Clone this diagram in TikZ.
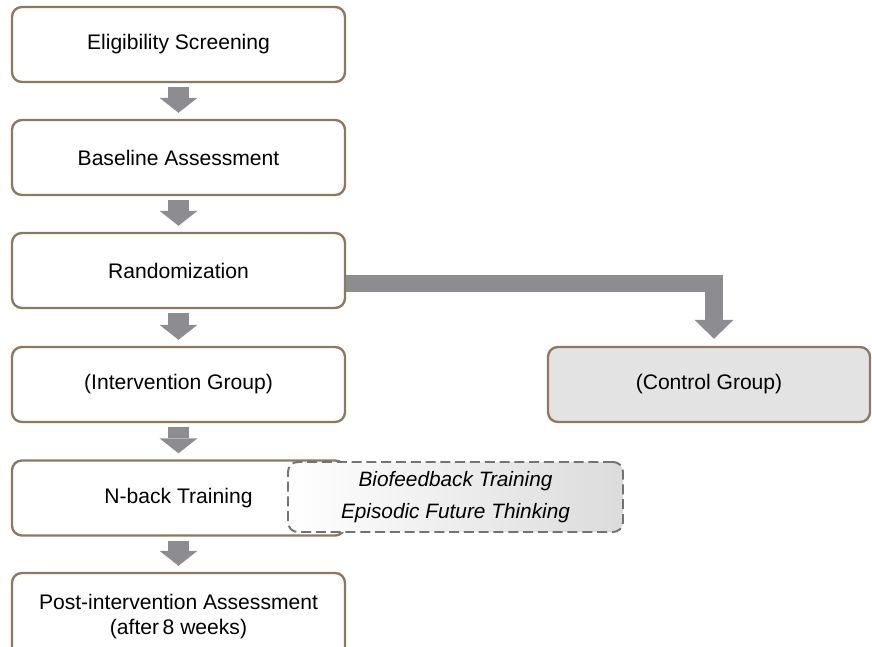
\documentclass[tikz,border=0pt]{standalone}
\usepackage{fontspec}
\setmainfont{Liberation Sans}
\usetikzlibrary{positioning, arrows.meta, calc}
\definecolor{boxbrown}{HTML}{8C7A60}
\definecolor{flowgray}{HTML}{8D8C91}
\definecolor{ctrlgray}{HTML}{E3E3E3}
\definecolor{dashgray}{HTML}{737373}

\tikzset{
  stepbox/.style={draw=boxbrown, line width=1.7pt, rounded corners=7pt, fill=white,
                  minimum width=8.325cm, minimum height=1.875cm, align=center, inner sep=4pt},
  extrabox/.style={draw=dashgray, line width=1.4pt, dash pattern=on 0.25cm off 0.12cm,
                   rounded corners=7pt, left color=white, right color=gray!28,
                   minimum width=8.375cm, minimum height=1.75cm, align=center,
                   font=\fontsize{14.8}{22.7}\selectfont\itshape},
  flow/.style={color=flowgray, line width=0.525cm,
               -{Triangle[width=0.95cm, length=0.375cm, line width=0pt]}},
  flowwide/.style={color=flowgray, line width=0.44cm, line join=miter,
                   -{Triangle[width=0.975cm, length=0.475cm, line width=0pt]}},
}

\begin{document}
\begin{tikzpicture}[font=\fontsize{15}{17.8}\selectfont]
  \useasboundingbox (0,0) rectangle (21.8,-16.175);

  % main column
  \node[stepbox] (screen) at (4.4625,-1.1125) {Eligibility Screening};
  \node[stepbox] (base)   at (4.4625,-3.9375) {Baseline Assessment};
  \node[stepbox] (rand)   at (4.4625,-6.7625) {Randomization};
  \node[stepbox] (int)    at (4.4625,-9.6125) {(Intervention Group)};
  \node[stepbox] (nback)  at (4.4625,-12.45)  {N-back Training};
  \node[stepbox, minimum height=2.2cm] (post) at (4.4625,-15.425)
        {Post-intervention Assessment\\(after\,8 weeks)};

  % control arm
  \node[stepbox, fill=ctrlgray, minimum width=8.05cm] (ctrl) at (17.725,-9.6125)
        {(Control Group)};

  % add-on training, laid over the n-back box
  \node[extrabox] (extra) at (11.3875,-12.425)
        {Biofeedback Training\\Episodic Future Thinking};

  \draw[flow] ($(screen.south)+(0,-0.1)$) -- ($(base.north)+(0,0.15)$);
  \draw[flow] ($(base.south)+(0,-0.1)$) -- ($(rand.north)+(0,0.15)$);
  \draw[flow] ($(rand.south)+(0,-0.1)$) -- ($(int.north)+(0,0.15)$);
  \draw[flow] ($(int.south)+(0,-0.1)$) -- ($(nback.north)+(0,0.15)$);
  \draw[flow] ($(nback.south)+(0,-0.1)$) -- ($(post.north)+(0,0.15)$);

  \draw[flowwide] ($(rand.east)+(0,-0.325)$) -| ($(ctrl.north)+(0.125,0.175)$);
\end{tikzpicture}
\end{document}
